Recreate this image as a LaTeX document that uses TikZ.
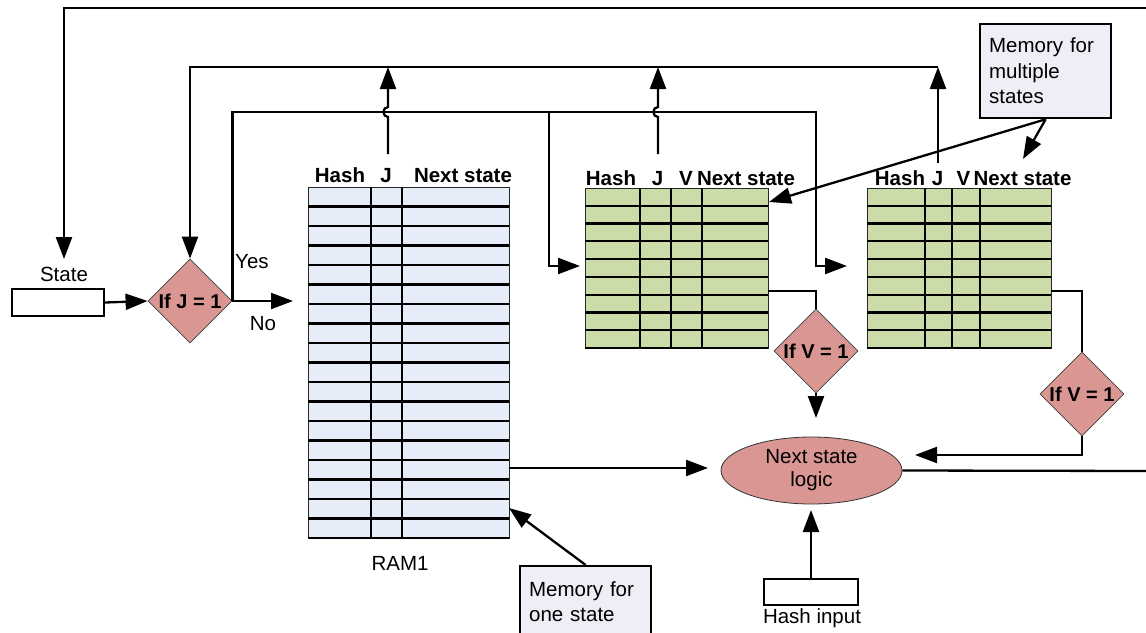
\documentclass[tikz,border=0pt]{standalone}
\usepackage{fontspec}
\setmainfont{Liberation Sans}
\usetikzlibrary{arrows.meta,shapes.geometric}
\definecolor{ramblue}{RGB}{230,237,248}
\definecolor{tgreen}{RGB}{204,220,168}
\definecolor{dpink}{RGB}{217,150,147}
\definecolor{memfill}{RGB}{239,237,245}
\begin{document}
\begin{tikzpicture}[x=1pt,y=-1pt,
  font=\fontsize{20.5}{23}\selectfont,
  ln/.style={line width=2.3pt},
  arr/.style={ln,-{Triangle[length=22pt,width=16pt]}},
  iobox/.style={rectangle,draw,line width=2.3pt,inner sep=0pt,fill=white},
  dia/.style={diamond,draw=black!75,line width=0.8pt,fill=dpink,inner sep=0pt,
    minimum width=84pt,minimum height=84pt,font=\fontsize{20}{23}\selectfont\bfseries},
  tbl/.style={rectangle,draw=black!85,line width=1pt,inner sep=0pt,anchor=north west},
  rowln/.style={line width=2.3pt},
  lbl/.style={inner sep=0pt,anchor=base},
  hdr/.style={lbl,font=\fontsize{20.5}{23}\selectfont\bfseries},
  memb/.style={rectangle,draw,line width=2.3pt,fill=memfill,inner ysep=0pt,inner xsep=9pt,
    text width=113pt,align=left,font=\fontsize{20.5}{25.5}\selectfont}
]
\useasboundingbox (0,0) rectangle (1146,632);

% ---- tables ----
\node[tbl,fill=ramblue,minimum width=201pt,minimum height=351pt] (ram) at (308,187) {};
\foreach \i in {1,...,18} \draw[rowln] (308,187+19.5*\i) -- (509,187+19.5*\i);
\foreach \c in {371,402} \draw[rowln] (\c,187) -- (\c,538);

\node[tbl,fill=tgreen,minimum width=183pt,minimum height=160pt] (tb2) at (585,188) {};
\foreach \i in {1,...,9} \draw[rowln] (585,188+17.78*\i) -- (768,188+17.78*\i);
\foreach \c in {640,671,702} \draw[rowln] (\c,188) -- (\c,348);

\node[tbl,fill=tgreen,minimum width=184pt,minimum height=160pt] (tb3) at (867,188) {};
\foreach \i in {1,...,9} \draw[rowln] (867,188+17.78*\i) -- (1051,188+17.78*\i);
\foreach \c in {925,952,980} \draw[rowln] (\c,188) -- (\c,348);

% ---- headers ----
\node[hdr] (h1a) at (340,182) {Hash};
\node[hdr] (h1b) at (386,182) {J};
\node[hdr] (h1c) at (463,182) {Next state};
\node[hdr] (h2a) at (611,185) {Hash};
\node[hdr] (h2b) at (657.5,185) {J};
\node[hdr] (h2c) at (686,185) {V};
\node[hdr] (h2d) at (746,185) {Next state};
\node[hdr] (h3a) at (900,185) {Hash};
\node[hdr] (h3b) at (937.5,185) {J};
\node[hdr] (h3c) at (963.5,185) {V};
\node[hdr] (h3d) at (1022.5,185) {Next state};

% ---- nodes ----
\node[iobox,minimum width=92pt,minimum height=27pt] (state) at (58,302.5) {};
\node[lbl] (statelbl) at (64,281) {State};
\node[dia] (dj) at (190,301) {If J = 1};
\node[lbl,anchor=base west] (yes) at (235,268) {Yes};
\node[lbl] (no) at (263,330) {No};
\node[dia] (dv1) at (816,351) {If V = 1};
\node[dia] (dv2) at (1082,394) {If V = 1};
\node[ellipse,draw=black!80,line width=0.8pt,fill=dpink,minimum width=181pt,minimum height=67pt,
  inner sep=0pt,align=center] (nsl) at (811.5,470.5) {Next state\\logic};
\node[iobox,minimum width=94pt,minimum height=26pt] (hin) at (811,592) {};
\node[lbl] (hinlbl) at (812,623) {Hash input};
\node[lbl] (ramlbl) at (400,570) {RAM1};
\node[memb,minimum height=71pt,anchor=north west] (mem1) at (519,565) {Memory for\\one state};
\node[memb,minimum height=94pt,anchor=north west] (memm) at (979,23) {Memory for\\multiple\\states};

% ---- coordinates ----
\coordinate (topR) at (1147,8);
\coordinate (statetip) at (64,259);
\coordinate (j3) at (938,163);
\coordinate (j3top) at (938,67);
\coordinate (jmid) at (816,112);
\coordinate (br) at (549,112);
\coordinate (t2in) at (580,266);
\coordinate (t3in) at (847,266);
\coordinate (notip) at (293,301);
\coordinate (t2out) at (768,291);
\coordinate (t3out) at (1051,291);
\coordinate (v1tip) at (816,418);
\coordinate (v2tip) at (915,455);
\coordinate (ramout) at (509,468);
\coordinate (ramtip) at (708,468);
\coordinate (hintip) at (811,510);
\coordinate (outR) at (1147,471);
\coordinate (ramwin) at (509,508);
\coordinate (t3hd) at (1023,159);
\coordinate (t2hd) at (769,202);

% ---- connectors ----
\draw[arr] (topR) -| (statetip);
\draw[arr] (state.east) -- (dj.west);
\draw[arr] (j3top) -| (dj.north);
\draw[arr] (j3) -- (j3top);
\draw[arr] (388,154) -- (388,117) .. controls (382,117) and (382,107) .. (388,107) -- (388,67);
\draw[arr] (658,154) -- (658,117) .. controls (652,117) and (652,107) .. (658,107) -- (658,67);
\draw[arr] (dj.east) |- (jmid) |- (t3in);
\draw[arr] (br) |- (t2in);
\draw[arr] (dj.east) -- (notip);
\draw[ln] (t2out) -| (dv1.north);
\draw[ln] (t3out) -| (dv2.north);
\draw[arr] (dv1.south) -- (v1tip);
\draw[arr] (dv2.south) |- (v2tip);
\draw[arr] (ramout) -- (ramtip);
\draw[arr] (hin.north) -- (hintip);
\draw[ln] (nsl.east) -- (outR);
\draw[arr] (mem1.north) -- (ramwin);
\draw[arr] (memm.south) -- (t3hd);
\draw[arr] (memm.south) -- (t2hd);
\end{tikzpicture}
\end{document}
